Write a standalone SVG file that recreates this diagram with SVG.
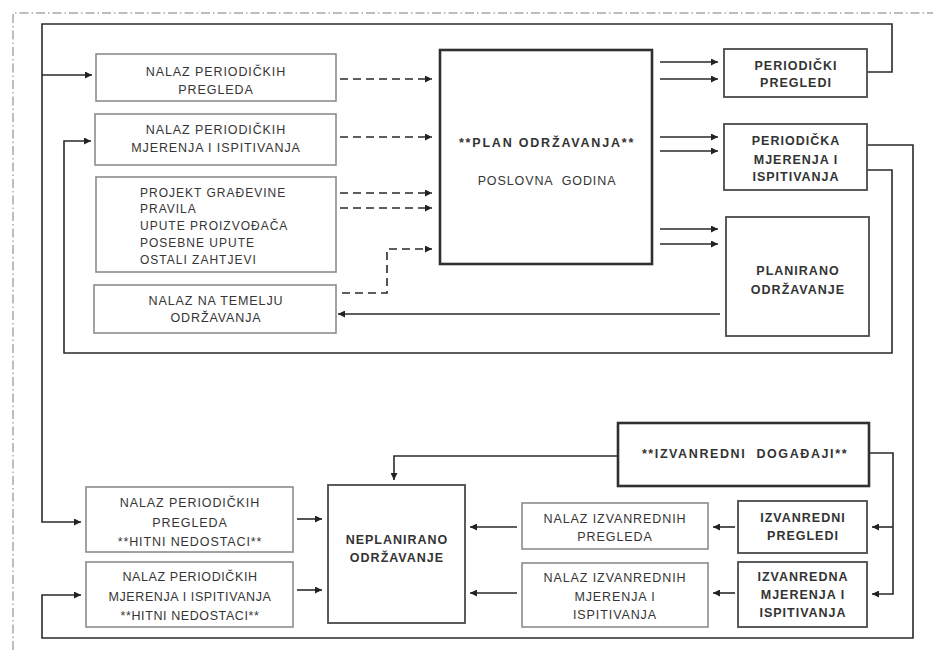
<svg xmlns="http://www.w3.org/2000/svg" width="933" height="650" viewBox="0 0 933 650">
<style>
.bg{fill:#fff}
.frame{fill:none;stroke:#a8a8a8;stroke-width:1.5;stroke-dasharray:9 3 1.5 3}
.lbox{fill:#fff;stroke:#8c8c8c;stroke-width:1.6}
.dbox{fill:#fff;stroke:#4a4a4a;stroke-width:1.8}
.tbox{fill:#fff;stroke:#303030;stroke-width:2.6}
.t{font-family:"Liberation Sans",Arial,sans-serif;font-size:12.5px;fill:#353535;letter-spacing:0.9px;text-anchor:middle}
.tl{font-family:"Liberation Sans",Arial,sans-serif;font-size:12px;fill:#353535;letter-spacing:1px}
.b{font-family:"Liberation Sans",Arial,sans-serif;font-size:12.5px;font-weight:bold;fill:#333;letter-spacing:1px;text-anchor:middle}
.a{fill:none;stroke:#2a2a2a;stroke-width:1.6;marker-end:url(#ah)}
.d{fill:none;stroke:#2a2a2a;stroke-width:1.6;stroke-dasharray:8 5;marker-end:url(#ah)}
</style>
<defs>
<marker id="ah" viewBox="0 0 10 10" refX="10" refY="5" markerWidth="9" markerHeight="7" orient="auto" markerUnits="userSpaceOnUse">
<path d="M0,0 L10,5 L0,10 z" fill="#222"/>
</marker>
</defs>
<rect class="bg" x="0" y="0" width="933" height="650"/>
<path class="frame" d="M13,650 V13 H933"/>

<g id="connectors">
<path class="a" d="M867,72 H892 V24 H42 V522 H81"/>
<path class="a" d="M42,75 H92"/>
<path class="a" d="M867,170 H892 V353 H64 V141 H91"/>
<path class="a" d="M867,145 H913 V638 H42 V595 H81"/>
<path class="d" d="M340,79 H432"/>
<path class="d" d="M340,137 H432"/>
<path class="d" d="M340,193 H432"/>
<path class="d" d="M340,208 H432"/>
<path class="d" d="M342,293 H387 V249 H432"/>
<path class="a" d="M660,62 H718"/>
<path class="a" d="M660,79 H718"/>
<path class="a" d="M660,137 H718"/>
<path class="a" d="M660,151 H718"/>
<path class="a" d="M660,229 H718"/>
<path class="a" d="M660,244 H718"/>
<path class="a" d="M720,314 H338"/>
<path class="a" d="M618,456 H394 V480"/>
<path class="a" d="M869,453 H893 V594 H872"/>
<path class="a" d="M893,527 H872"/>
<path class="a" d="M735,527 H713"/>
<path class="a" d="M735,593 H713"/>
<path class="a" d="M517,527 H470"/>
<path class="a" d="M517,593 H470"/>
<path class="a" d="M297,519 H322"/>
<path class="a" d="M297,590 H322"/>
</g>

<g id="nalaz-periodickih-pregleda">
<rect class="lbox" x="96" y="54" width="240" height="47"/>
<text class="t" x="216" y="76">NALAZ PERIODIČKIH</text>
<text class="t" x="216" y="94">PREGLEDA</text>
</g>
<g id="nalaz-periodickih-mjerenja">
<rect class="lbox" x="95" y="114" width="241" height="51"/>
<text class="t" x="216" y="134">NALAZ PERIODIČKIH</text>
<text class="t" x="216" y="152">MJERENJA I ISPITIVANJA</text>
</g>
<g id="projekt">
<rect class="lbox" x="96" y="177" width="240" height="95"/>
<text class="tl" x="140" y="197">PROJEKT GRAĐEVINE</text>
<text class="tl" x="140" y="213">PRAVILA</text>
<text class="tl" x="140" y="230">UPUTE PROIZVOĐAČA</text>
<text class="tl" x="140" y="247">POSEBNE UPUTE</text>
<text class="tl" x="140" y="264">OSTALI ZAHTJEVI</text>
</g>
<g id="nalaz-na-temelju">
<rect class="lbox" x="94" y="285" width="242" height="48"/>
<text class="t" x="216" y="305">NALAZ NA TEMELJU</text>
<text class="t" x="216" y="322">ODRŽAVANJA</text>
</g>
<g id="plan">
<rect class="tbox" x="440" y="50" width="212" height="214"/>
<text class="b" x="547" y="147" style="letter-spacing:1.8px">**PLAN ODRŽAVANJA**</text>
<text class="t" x="547" y="185" xml:space="preserve">POSLOVNA  GODINA</text>
</g>
<g id="periodicki-pregledi">
<rect class="dbox" x="724" y="49" width="143" height="48"/>
<text class="b" x="796" y="70">PERIODIČKI</text>
<text class="b" x="796" y="87">PREGLEDI</text>
</g>
<g id="periodicka-mjerenja">
<rect class="dbox" x="724" y="124" width="143" height="66"/>
<text class="b" x="796" y="145">PERIODIČKA</text>
<text class="b" x="796" y="164">MJERENJA I</text>
<text class="b" x="796" y="181">ISPITIVANJA</text>
</g>
<g id="planirano">
<rect class="dbox" x="726" y="217" width="143" height="119"/>
<text class="b" x="798" y="275">PLANIRANO</text>
<text class="b" x="798" y="294">ODRŽAVANJE</text>
</g>
<g id="izvanredni-dogadaji">
<rect class="tbox" x="618" y="423" width="251" height="63"/>
<text class="b" x="745" y="458" style="letter-spacing:1.6px" xml:space="preserve">**IZVANREDNI  DOGAĐAJI**</text>
</g>
<g id="nalaz-periodickih-pregleda-hitni">
<rect class="lbox" x="86" y="487" width="207" height="65"/>
<text class="t" x="190" y="507">NALAZ PERIODIČKIH</text>
<text class="t" x="190" y="527">PREGLEDA</text>
<text class="t" x="190" y="546">**HITNI NEDOSTACI**</text>
</g>
<g id="nalaz-periodickih-mjerenja-hitni">
<rect class="lbox" x="86" y="562" width="207" height="65"/>
<text class="t" x="190" y="581" style="letter-spacing:0.6px">NALAZ PERIODIČKIH</text>
<text class="t" x="190" y="601" style="letter-spacing:0.6px">MJERENJA I ISPITIVANJA</text>
<text class="t" x="190" y="620" style="letter-spacing:0.6px">**HITNI NEDOSTACI**</text>
</g>
<g id="neplanirano">
<rect class="dbox" x="328" y="485" width="137" height="138"/>
<text class="b" x="397" y="544">NEPLANIRANO</text>
<text class="b" x="397" y="562">ODRŽAVANJE</text>
</g>
<g id="nalaz-izvanrednih-pregleda">
<rect class="lbox" x="522" y="503" width="186" height="46"/>
<text class="t" x="615" y="523">NALAZ IZVANREDNIH</text>
<text class="t" x="615" y="541">PREGLEDA</text>
</g>
<g id="nalaz-izvanrednih-mjerenja">
<rect class="lbox" x="522" y="563" width="186" height="64"/>
<text class="t" x="615" y="582">NALAZ IZVANREDNIH</text>
<text class="t" x="615" y="601">MJERENJA I</text>
<text class="t" x="615" y="619">ISPITIVANJA</text>
</g>
<g id="izvanredni-pregledi">
<rect class="dbox" x="738" y="501" width="129" height="52"/>
<text class="b" x="803" y="522">IZVANREDNI</text>
<text class="b" x="803" y="540">PREGLEDI</text>
</g>
<g id="izvanredna-mjerenja">
<rect class="dbox" x="738" y="562" width="129" height="65"/>
<text class="b" x="803" y="581">IZVANREDNA</text>
<text class="b" x="803" y="599">MJERENJA I</text>
<text class="b" x="803" y="617">ISPITIVANJA</text>
</g>
</svg>
